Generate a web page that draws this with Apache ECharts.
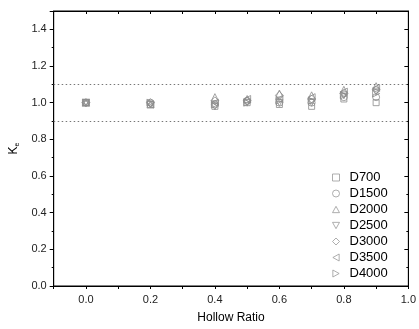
<!DOCTYPE html>
<html><head><meta charset="utf-8">
<script src="https://cdn.jsdelivr.net/npm/echarts@6/dist/echarts.min.js"></script>
<style>html,body{margin:0;padding:0;background:#fff}#c{width:419px;height:329px}</style>
</head><body><div id="c"></div>
<script>
const xValues = [0.0, 0.2, 0.4, 0.5, 0.6, 0.7, 0.8, 0.9];
const seriesNames = ['D700','D1500','D2000','D2500','D3000','D3500','D4000'];
const D700  = [1.00, 0.99, 0.98, 1.00, 0.99, 0.98, 1.02, 1.00];
const D1500 = [1.00, 1.00, 0.99, 1.01, 1.00, 1.00, 1.03, 1.03];
const D2000 = [1.00, 0.99, 1.03, 1.02, 1.05, 1.04, 1.07, 1.09];
const D2500 = [1.00, 0.99, 0.98, 1.00, 1.00, 1.00, 1.04, 1.06];
const D3000 = [1.00, 1.00, 1.01, 1.01, 1.04, 1.02, 1.05, 1.07];
const D3500 = [1.00, 0.99, 1.00, 1.02, 1.02, 1.03, 1.06, 1.08];
const D4000 = [1.00, 1.00, 0.99, 1.00, 1.01, 1.01, 1.04, 1.05];
const seriesValues = [D700, D1500, D2000, D2500, D3000, D3500, D4000];
const refLines = [1.1, 0.9];

const symbols = [
  'rect', 'circle',
  'path://M5,0L10,9L0,9Z',
  'path://M0,0L10,0L5,9Z',
  'diamond',
  'path://M9,0L9,10L0,5Z',
  'path://M0,0L0,10L9,5Z'
];
const sizes = [6,7,7,7,8,7,7];
const grey = '#8c8c8c';
const font = 'Liberation Sans, Arial, sans-serif';

const series = seriesNames.map((n, i) => ({
  name: n, type: 'scatter',
  data: xValues.map((x, j) => [x, seriesValues[i][j]]),
  symbol: symbols[i], symbolSize: sizes[i],
  itemStyle: {color: 'rgba(255,255,255,0)', borderColor: grey, borderWidth: 1},
  emphasis: {disabled: true}
}));
series.push({
  type: 'line', data: [], silent: true, xAxisIndex: 1, yAxisIndex: 1,
  markLine: {
    silent: true, symbol: ['none','none'], label: {show: false},
    lineStyle: {type: [1.5, 2.5], color: '#777', width: 1},
    data: refLines.map(v => ({yAxis: v}))
  }
});

const chart = echarts.init(document.getElementById('c'), null, {renderer: 'canvas'});
chart.setOption({
  animation: false,
  backgroundColor: '#fff',
  grid: {left: 50, right: 4, top: 11, bottom: 40, show: true, borderColor: '#000', borderWidth: 1, backgroundColor: 'rgba(0,0,0,0)'},
  legend: {
    orient: 'vertical', left: 327, top: 166,
    itemWidth: 7, itemHeight: 7, itemGap: 3,
    data: seriesNames.map((n, i) => ({name: n, icon: symbols[i],
      itemStyle: {color: 'rgba(255,255,255,0)', borderColor: '#9a9a9a', borderWidth: 1}})),
    textStyle: {fontFamily: font, fontSize: 13, color: '#000', padding: [0,0,0,5]}
  },
  xAxis: [{
    type: 'value', min: -0.1, max: 1.0, interval: 0.1,
    name: 'Hollow Ratio', nameLocation: 'middle', nameGap: 26,
    nameTextStyle: {fontFamily: font, fontSize: 12, color: '#000'},
    axisLine: {show: true, onZero: false, lineStyle: {color: '#000', width: 1}},
    axisTick: {show: true, inside: false, length: 3, lineStyle: {color: '#000'}},
    splitLine: {show: false},
    axisLabel: {fontFamily: font, fontSize: 11, color: '#222', margin: 8,
      formatter: v => { const k = Math.round(v * 10); return (k >= 0 && k % 2 === 0) ? v.toFixed(1) : ''; }}
  }, {
    type: 'value', position: 'top', min: -0.1, max: 1.0, interval: 0.1,
    axisLine: {show: true, onZero: false, lineStyle: {color: '#000', width: 1}},
    axisTick: {show: true, inside: true, length: 3, lineStyle: {color: '#000'}},
    axisLabel: {show: false}, splitLine: {show: false}
  }],
  yAxis: [{
    type: 'value', min: 0, max: 1.5, interval: 0.2,
    name: 'K{s|e}', nameLocation: 'middle', nameGap: 33,
    nameTextStyle: {fontFamily: font, fontSize: 12, color: '#000',
      rich: {s: {fontFamily: font, fontSize: 7, color: '#000', verticalAlign: 'bottom', padding: [6,0,0,0]}}},
    axisLine: {show: true, onZero: false, lineStyle: {color: '#000', width: 1}},
    axisTick: {show: true, inside: false, length: 4, lineStyle: {color: '#000'}},
    minorTick: {show: true, splitNumber: 2, length: 2, lineStyle: {color: '#000'}},
    splitLine: {show: false},
    axisLabel: {fontFamily: font, fontSize: 11, color: '#222', margin: 7, showMaxLabel: false,
      formatter: v => v.toFixed(1)}
  }, {
    type: 'value', position: 'right', min: 0, max: 1.5, interval: 0.2,
    axisLine: {show: true, onZero: false, lineStyle: {color: '#000', width: 1}},
    axisTick: {show: true, inside: true, length: 4, lineStyle: {color: '#000'}},
    minorTick: {show: true, splitNumber: 2, length: 2, lineStyle: {color: '#000'}},
    axisLabel: {show: false}, splitLine: {show: false}
  }],
  series: series
});
</script></body></html>
